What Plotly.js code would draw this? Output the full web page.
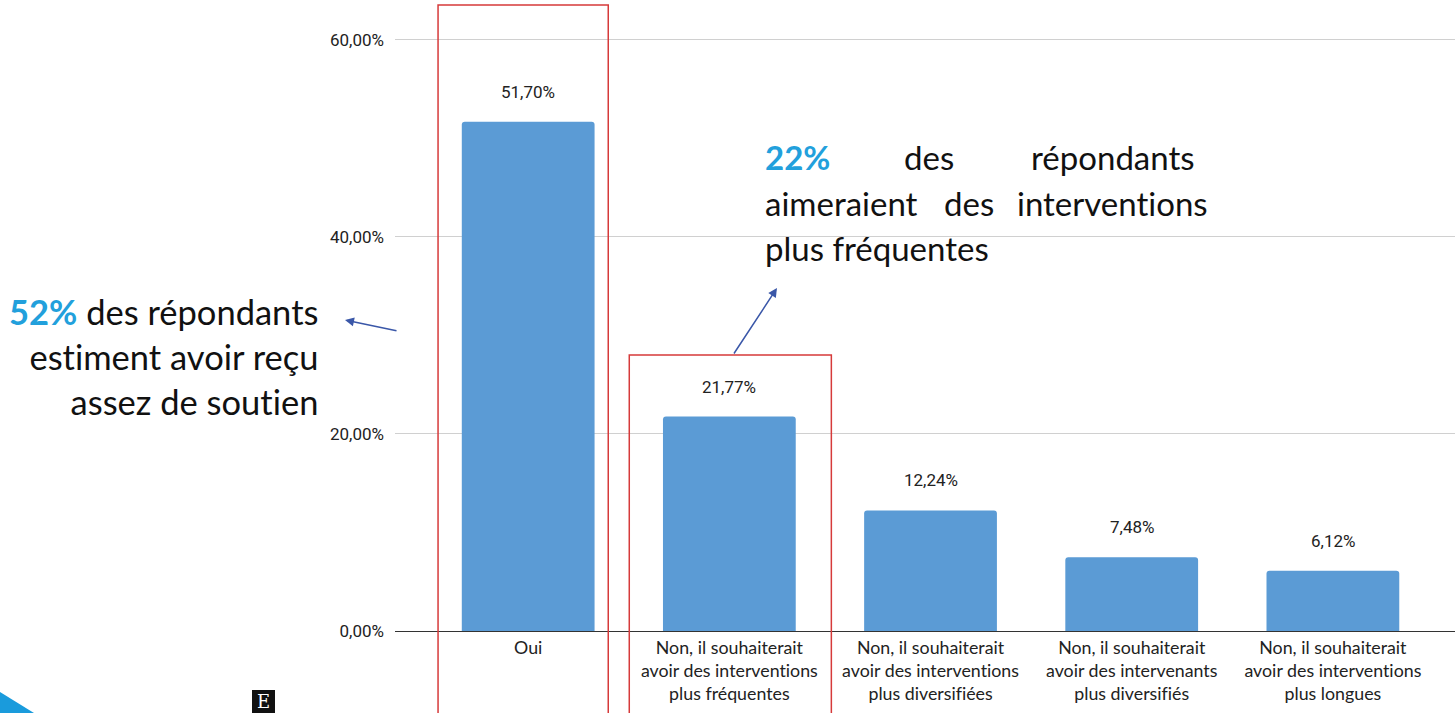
<!DOCTYPE html>
<html>
<head>
<meta charset="utf-8">
<script src="https://cdn.plot.ly/plotly-3.0.1.min.js"></script>
<style>
html,body{margin:0;padding:0;background:#fff;}
#chart{width:1455px;height:713px;}
text{font-variant-ligatures:none;font-feature-settings:"liga" 0,"clig" 0;}
</style>
</head>
<body>
<div id="chart"></div>
<script>
var categories = [
  "Oui",
  "Non, il souhaiterait<br>avoir des interventions<br>plus fréquentes",
  "Non, il souhaiterait<br>avoir des interventions<br>plus diversifiées",
  "Non, il souhaiterait<br>avoir des intervenants<br>plus diversifiés",
  "Non, il souhaiterait<br>avoir des interventions<br>plus longues"
];
var values = [51.70, 21.77, 12.24, 7.48, 6.12];
var yTickVals = [0, 20, 40, 60];
var yTickText = ["0,00%", "20,00%", "40,00%", "60,00%"];

function fmt(v) { return v.toFixed(2).replace('.', ',') + '%'; }

var W = 1455, H = 713, L = 395, R = 0, T = 30, B = 82;
var PW = W - L - R, PH = H - T - B;
var YMAX = 61;
function px(x) { return (x - L) / PW; }
function py(y) { return (H - B - y) / PH; }

var trace = {
  type: 'bar',
  x: categories.map(function(c, i){ return i; }),
  y: values,
  width: 0.66,
  marker: { color: '#5b9bd5', cornerradius: 3 },
  hoverinfo: 'skip'
};

var annotations = values.map(function(v, i){
  return { x: i, y: v, xref: 'x', yref: 'y', text: fmt(v), showarrow: false,
    yanchor: 'middle', yshift: 30, font: { family: 'Roboto', size: 17, color: '#222' } };
});

var big = { family: 'Lato', size: 33, color: '#111' };
var bigL = { family: 'Lato', size: 34.5, color: '#111' };
var blue = '#22a0dc';
annotations.push({ xref: 'paper', yref: 'paper', x: px(320), y: py(356), xanchor: 'right', yanchor: 'middle',
  align: 'right', showarrow: false, font: bigL,
  text: '<b><span style="color:' + blue + '">52%</span></b> des répondants<br>estiment avoir reçu<br>assez de soutien' });
var line1 = py(157), line2 = py(203), line3 = py(248);
[
  { x: px(763), y: line1, xanchor: 'left', text: '<b><span style="color:' + blue + '">22%</span></b>' },
  { x: px(902), y: line1, xanchor: 'left', text: 'des' },
  { x: px(1197), y: line1, xanchor: 'right', text: 'répondants' },
  { x: px(763), y: line2, xanchor: 'left', text: 'aimeraient' },
  { x: px(942), y: line2, xanchor: 'left', text: 'des' },
  { x: px(1210), y: line2, xanchor: 'right', text: 'interventions' },
  { x: px(763), y: line3, xanchor: 'left', text: 'plus fréquentes' }
].forEach(function(a){
  annotations.push({ xref: 'paper', yref: 'paper', x: a.x, y: a.y, xanchor: a.xanchor, yanchor: 'middle',
    showarrow: false, font: big, text: a.text });
});
// arrows
annotations.push({ xref: 'paper', yref: 'paper', x: px(345), y: py(320), ax: 53, ay: 11, axref: 'pixel', ayref: 'pixel',
  text: '', showarrow: true, arrowhead: 2, arrowsize: 1.2, arrowwidth: 1.5, arrowcolor: '#3a57a8' });
annotations.push({ xref: 'paper', yref: 'paper', x: px(777), y: py(288), ax: -44, ay: 67, axref: 'pixel', ayref: 'pixel',
  text: '', showarrow: true, arrowhead: 2, arrowsize: 1.2, arrowwidth: 1.5, arrowcolor: '#3a57a8' });
// small logo letter
annotations.push({ xref: 'paper', yref: 'paper', x: px(263.5), y: py(701.5), xanchor: 'center', yanchor: 'middle',
  showarrow: false, text: 'E', font: { family: 'DejaVu Serif', size: 18, color: '#fff' } });

var shapes = [
  { type: 'rect', xref: 'x', yref: 'paper', x0: -0.448, x1: 0.398, y0: py(740), y1: py(5),
    line: { color: '#d63a3a', width: 1.5 }, fillcolor: 'rgba(0,0,0,0)' },
  { type: 'rect', xref: 'x', yref: 'paper', x0: 0.5025, x1: 1.507, y0: py(740), y1: py(355),
    line: { color: '#d63a3a', width: 1.5 }, fillcolor: 'rgba(0,0,0,0)' },
  { type: 'path', xref: 'paper', yref: 'paper',
    path: 'M ' + px(0) + ' ' + py(692) + ' L ' + px(34) + ' ' + py(713) + ' L ' + px(0) + ' ' + py(713) + ' Z',
    fillcolor: '#1a9bdc', line: { width: 0 } },
  { type: 'rect', xref: 'paper', yref: 'paper', x0: px(252), x1: px(275), y0: py(713), y1: py(690),
    fillcolor: '#111', line: { width: 0 } }
];

var layout = {
  width: W, height: H,
  margin: { l: L, r: R, t: T, b: B, pad: 0 },
  paper_bgcolor: '#fff', plot_bgcolor: '#fff',
  showlegend: false,
  xaxis: {
    type: 'linear', range: [-0.662, 4.607],
    tickmode: 'array', tickvals: categories.map(function(c, i){ return i; }), ticktext: categories,
    showgrid: false, zeroline: false, showline: false, ticks: '',
    ticklabelstandoff: 4,
    tickfont: { family: 'Lato', size: 17.8, color: '#222' }
  },
  yaxis: {
    range: [0, YMAX], tickmode: 'array', tickvals: yTickVals, ticktext: yTickText,
    showgrid: true, gridcolor: '#d0d0d0', gridwidth: 1,
    zeroline: true, zerolinecolor: '#333', zerolinewidth: 1, showline: false, ticks: '',
    ticklabelstandoff: 10,
    tickfont: { family: 'Roboto', size: 17, color: '#222' }
  },
  annotations: annotations,
  shapes: shapes
};

Plotly.newPlot('chart', [trace], layout, { displayModeBar: false, staticPlot: true });
</script>
</body>
</html>
